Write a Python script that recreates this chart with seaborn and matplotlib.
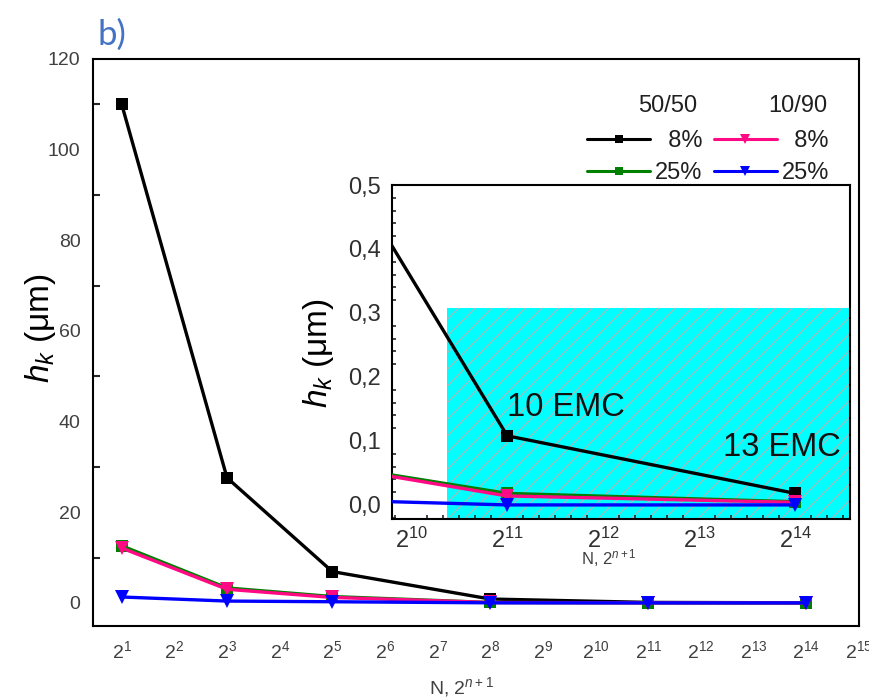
import numpy as np
import pandas as pd
import matplotlib
matplotlib.use("Agg")
import matplotlib.pyplot as plt
import seaborn as sns
from matplotlib.lines import Line2D
from matplotlib.patches import Rectangle
from matplotlib.ticker import AutoMinorLocator

# ---------------- data ----------------
exponents = [1, 3, 5, 8, 11, 14]            # N = 2^exponent
h_5050_8 = [110.0, 27.6, 6.9, 0.85, 0.108, 0.018]
h_5050_25 = [12.6, 3.3, 1.4, 0.09, 0.018, 0.005]
h_1090_8 = [12.1, 3.0, 1.2, 0.09, 0.014, 0.004]
h_1090_25 = [1.3, 0.4, 0.25, 0.0125, 0.0, 0.0]

main_xticks = list(range(1, 16))
main_xticklabels = [f"$2^{{{k}}}$" for k in main_xticks]
main_yticks = [0, 20, 40, 60, 80, 100, 120]

inset_xticks = [10, 11, 12, 13, 14]
inset_xticklabels = [f"$2^{{{k}}}$" for k in inset_xticks]
inset_yticks = [0.0, 0.1, 0.2, 0.3, 0.4, 0.5]
inset_yticklabels = ["0,0", "0,1", "0,2", "0,3", "0,4", "0,5"]

region_x = [10.375, 14.7]     # hatched cyan region (inset)
region_top = 0.308

annot_text = ["10 EMC", "13 EMC"]
annot_x = [11.0, 13.25]
annot_y = [0.152, 0.089]

legend_labels = ["  8%", "25%", "  8%", "25%"]
group_headers = ["50/50", "10/90"]

# ---------------- style ----------------
sns.set_style("white")
plt.rcParams["font.family"] = ["Liberation Sans", "DejaVu Sans"]
plt.rcParams["mathtext.fontset"] = "custom"
plt.rcParams["mathtext.rm"] = "Liberation Sans"
plt.rcParams["mathtext.it"] = "Liberation Sans:italic"
plt.rcParams["mathtext.bf"] = "Liberation Sans:bold"
plt.rcParams["hatch.linewidth"] = 0.8

series = [
    ("50/50 8%", h_5050_8, "black", "s", 9),
    ("50/50 25%", h_5050_25, "#008000", "s", 9),
    ("10/90 8%", h_1090_8, "#FF0A84", "v", 10),
    ("10/90 25%", h_1090_25, "#0000FF", "v", 10),
]
df = pd.concat(
    [pd.DataFrame({"exp": exponents, "h": vals, "series": name}) for name, vals, *_ in series],
    ignore_index=True,
)

W, H = 870, 699
fig = plt.figure(figsize=(W / 100, H / 100), dpi=100)
ax = fig.add_axes([93 / W, 1 - 626 / H, (859 - 93) / W, (626 - 59) / H])


def draw_series(a, lw, z0=2):
    for i, (name, vals, col, mk, ms) in enumerate(series):
        sub = df[df["series"] == name]
        sns.lineplot(data=sub, x="exp", y="h", ax=a, color=col, marker=mk,
                     markersize=ms, markeredgewidth=0, linewidth=lw, sort=False,
                     legend=False, zorder=z0 + i)


draw_series(ax, 2.4)
ax.set_xlim(0.455, 15.0)
ax.set_ylim(-5.1, 120)
ax.set_xticks(main_xticks)
ax.set_xticklabels(main_xticklabels)
ax.set_yticks(main_yticks)
ax.yaxis.set_minor_locator(AutoMinorLocator(2))
ax.tick_params(axis="both", which="major", direction="in", length=8, width=1.5,
               labelsize=14, labelcolor="#404040", color="black")
ax.tick_params(axis="y", which="major", pad=9)
ax.tick_params(axis="x", which="major", pad=10)
ax.tick_params(axis="y", which="minor", direction="in", length=5, width=1.5, left=True)
ax.tick_params(top=False, right=False)
for sp in ax.spines.values():
    sp.set_linewidth(1.5)
    sp.set_color("black")
    sp.set_visible(True)

ax.set_xlabel("N, $2^{n+1}$", fontsize=14, color="#404040")
ax.xaxis.set_label_coords((461 - 93) / 766, (626 - 675) / 567)
ax.xaxis.label.set_va("top")
ax.set_ylabel("$h_k$ (μm)", fontsize=24, color="black")
ax.yaxis.set_label_coords((58 - 93) / 766, (626 - 328) / 567)

# legend
handles = []
for name, vals, col, mk, ms in series:
    handles.append(Line2D([], [], color=col, marker=mk, markersize=6 if mk == "s" else 7,
                          markeredgewidth=0, linewidth=2.2))
leg = ax.legend(handles, legend_labels, ncol=2, loc="upper right",
                bbox_to_anchor=((829 - 93) / 766, (626 - 130) / 567),
                frameon=False, borderpad=0, borderaxespad=0, handlelength=2.67,
                handletextpad=0.2, columnspacing=0.47, labelspacing=0.42, fontsize=17)
for t in leg.get_texts():
    t.set_color("#202020")
ax.text((697 - 93) / 766, (626 - 106) / 567, group_headers[0], ha="right", va="center",
        transform=ax.transAxes, fontsize=17, color="#202020")
ax.text((827 - 93) / 766, (626 - 106) / 567, group_headers[1], ha="right", va="center",
        transform=ax.transAxes, fontsize=17, color="#202020")

# ---------------- inset ----------------
axi = fig.add_axes([392 / W, 1 - 519 / H, (850 - 392) / W, (519 - 185) / H])
axi.set_facecolor("white")
axi.add_patch(Rectangle((region_x[0], -1), region_x[1] - region_x[0], region_top + 1,
                        facecolor="#00FFFF", edgecolor="#B4B4B4", hatch="//",
                        linewidth=0, zorder=0.5))
draw_series(axi, 2.4)
axi.set_xlim(9.8, 14.57)
axi.set_ylim(-0.022, 0.5)
axi.set_xticks(inset_xticks)
axi.set_xticklabels(inset_xticklabels)
axi.set_yticks(inset_yticks)
axi.set_yticklabels(inset_yticklabels)
axi.xaxis.set_minor_locator(AutoMinorLocator(6))
axi.yaxis.set_minor_locator(AutoMinorLocator(5))
axi.tick_params(axis="both", which="major", direction="in", length=6, width=1.5,
                labelsize=17, labelcolor="#303030", color="black")
axi.tick_params(axis="y", which="major", pad=8)
axi.tick_params(axis="x", which="major", pad=6)
axi.tick_params(axis="both", which="minor", direction="in", length=3, width=1.2,
                bottom=True, left=True)
axi.tick_params(top=False, right=False)
for sp in axi.spines.values():
    sp.set_linewidth(1.5)
    sp.set_color("black")
    sp.set_visible(True)
axi.set_xlabel("N, $2^{n+1}$", fontsize=12, color="#404040")
axi.xaxis.set_label_coords((609 - 392) / 458, (519 - 547) / 334)
axi.xaxis.label.set_va("top")
axi.set_ylabel("$h_k$ (μm)", fontsize=24, color="black")
axi.yaxis.set_label_coords((336 - 392) / 458, (519 - 353) / 334)

for txt, x, y in zip(annot_text, annot_x, annot_y):
    axi.text(x, y, txt, ha="left", va="center", fontsize=23.5, color="#101010", zorder=10)

fig.text(98 / W, 1 - 45 / H, "b)", fontsize=25, color="#4472C4",
         family=["Lato", "DejaVu Sans"], va="baseline", ha="left")

fig.savefig("out.png", dpi=100)
